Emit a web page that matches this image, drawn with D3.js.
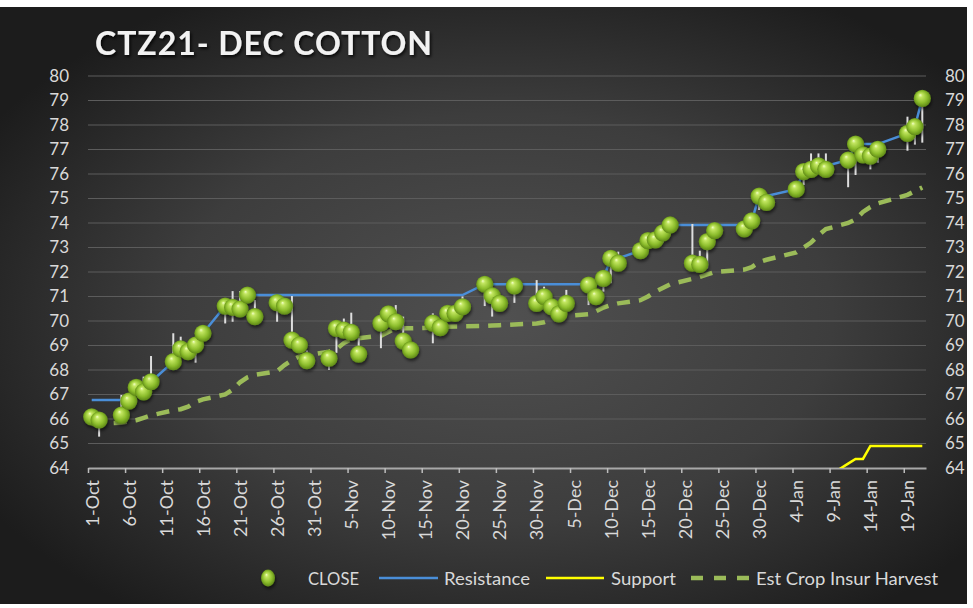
<!DOCTYPE html>
<html>
<head>
<meta charset="utf-8">
<script src="https://cdn.jsdelivr.net/npm/d3@7"></script>
<style>
  html, body { margin: 0; padding: 0; background: #fff; }
  svg { display: block; font-family: Lato, "Open Sans", sans-serif; }
</style>
</head>
<body>
<script>
// trading days shown on the chart
const dates = [
  "2020-10-01","2020-10-02",
  "2020-10-05","2020-10-06","2020-10-07","2020-10-08","2020-10-09",
  "2020-10-12","2020-10-13","2020-10-14","2020-10-15","2020-10-16",
  "2020-10-19","2020-10-20","2020-10-21","2020-10-22","2020-10-23",
  "2020-10-26","2020-10-27","2020-10-28","2020-10-29","2020-10-30",
  "2020-11-02","2020-11-03","2020-11-04","2020-11-05","2020-11-06",
  "2020-11-09","2020-11-10","2020-11-11","2020-11-12","2020-11-13",
  "2020-11-16","2020-11-17","2020-11-18","2020-11-19","2020-11-20",
  "2020-11-23","2020-11-24","2020-11-25","2020-11-27",
  "2020-11-30","2020-12-01","2020-12-02","2020-12-03","2020-12-04",
  "2020-12-07","2020-12-08","2020-12-09","2020-12-10","2020-12-11",
  "2020-12-14","2020-12-15","2020-12-16","2020-12-17","2020-12-18",
  "2020-12-21","2020-12-22","2020-12-23","2020-12-24",
  "2020-12-28","2020-12-29","2020-12-30","2020-12-31",
  "2021-01-04","2021-01-05","2021-01-06","2021-01-07","2021-01-08",
  "2021-01-11","2021-01-12","2021-01-13","2021-01-14","2021-01-15",
  "2021-01-19","2021-01-20","2021-01-21"
];

const close = [
  66.09, 65.96,
  66.16, 66.73, 67.29, 67.11, 67.52,
  68.34, 68.86, 68.75, 69.02, 69.50,
  70.61, 70.56, 70.49, 71.06, 70.18,
  70.75, 70.61, 69.22, 69.02, 68.38,
  68.48, 69.70, 69.63, 69.54, 68.65,
  69.91, 70.29, 69.97, 69.18, 68.82,
  69.91, 69.73, 70.31, 70.31, 70.58,
  71.50, 71.03, 70.72, 71.43,
  70.72, 70.99, 70.58, 70.29, 70.72,
  71.47, 70.99, 71.74, 72.56, 72.36,
  72.87, 73.28, 73.31, 73.60, 73.92,
  72.36, 72.31, 73.24, 73.69,
  73.76, 74.09, 75.10, 74.84,
  75.38, 76.10, 76.19, 76.33, 76.19,
  76.57, 77.22, 76.78, 76.73, 77.01,
  77.66, 77.93, 79.09
];

const high = [
  66.30, 66.20,
  66.98, 66.90, 67.40, 67.73, 68.57,
  69.50, 69.36, 68.90, 69.20, 69.60,
  70.86, 71.22, 71.22, 71.20, 70.86,
  70.90, 70.80, 71.02, 69.20, 68.80,
  68.60, 69.85, 70.10, 70.34, 69.30,
  70.38, 70.45, 70.65, 70.18, 69.00,
  70.31, 69.95, 70.50, 70.50, 71.00,
  71.74, 71.20, 70.90, 71.60,
  71.67, 71.40, 70.80, 70.50, 71.27,
  71.65, 71.20, 71.90, 72.75, 72.83,
  73.00, 73.45, 73.60, 73.80, 74.10,
  73.96, 72.87, 73.40, 73.85,
  73.90, 74.25, 75.25, 75.00,
  75.55, 76.30, 76.84, 76.84, 76.84,
  76.75, 77.40, 76.95, 76.90, 77.20,
  78.34, 78.10, 79.20
];

const low = [
  65.90, 65.28,
  66.00, 66.50, 67.10, 66.90, 67.30,
  68.10, 68.60, 68.50, 68.30, 69.30,
  69.90, 69.97, 70.30, 70.80, 70.00,
  69.97, 70.40, 69.00, 68.80, 68.20,
  68.00, 68.70, 69.40, 69.30, 68.50,
  68.89, 70.10, 69.80, 69.00, 68.60,
  69.09, 69.50, 70.10, 70.10, 70.40,
  70.61, 70.18, 70.50, 70.74,
  70.50, 70.80, 70.40, 70.10, 70.50,
  70.65, 70.80, 71.20, 71.54, 72.20,
  72.70, 73.10, 73.10, 73.20, 73.75,
  72.20, 72.15, 72.15, 73.50,
  73.60, 73.90, 74.53, 74.70,
  75.20, 75.55, 76.00, 76.10, 76.00,
  75.46, 75.96, 76.50, 76.19, 76.46,
  76.95, 77.20, 77.28
];

const resistance = [
  66.78, 66.78,
  66.78, 66.78, 67.29, 67.29, 67.52,
  68.34, 68.86, 68.86, 69.02, 69.50,
  70.61, 70.61, 70.61, 71.06, 71.06,
  71.06, 71.06, 71.06, 71.06, 71.06,
  71.06, 71.06, 71.06, 71.06, 71.06,
  71.06, 71.06, 71.06, 71.06, 71.06,
  71.06, 71.06, 71.06, 71.06, 71.06,
  71.50, 71.50, 71.50, 71.50,
  71.50, 71.50, 71.50, 71.50, 71.50,
  71.50, 71.50, 71.74, 72.56, 72.56,
  72.87, 73.28, 73.31, 73.60, 73.92,
  73.92, 73.92, 73.92, 73.92,
  73.92, 74.09, 75.10, 75.10,
  75.38, 76.10, 76.19, 76.33, 76.33,
  76.57, 77.22, 77.22, 77.22, 77.22,
  77.66, 77.93, 79.09
];

const support = [
  null, null,
  null, null, null, null, null,
  null, null, null, null, null,
  null, null, null, null, null,
  null, null, null, null, null,
  null, null, null, null, null,
  null, null, null, null, null,
  null, null, null, null, null,
  null, null, null, null,
  null, null, null, null, null,
  null, null, null, null, null,
  null, null, null, null, null,
  null, null, null, null,
  null, null, null, null,
  null, null, null, null, 63.60,
  64.18, 64.37, 64.37, 64.90, 64.90,
  64.90, 64.90, 64.90
];

const harvest = [
  65.80, 65.80,
  65.85, 65.90, 65.95, 66.05, 66.15,
  66.35, 66.40, 66.50, 66.70, 66.80,
  67.00, 67.20, 67.50, 67.70, 67.80,
  67.95, 68.20, 68.40, 68.55, 68.60,
  68.75, 68.85, 69.10, 69.25, 69.30,
  69.40, 69.55, 69.70, 69.70, 69.70,
  69.72, 69.75, 69.77, 69.78, 69.78,
  69.80, 69.82, 69.83, 69.86,
  69.90, 69.95, 70.05, 70.13, 70.20,
  70.28, 70.40, 70.55, 70.65, 70.72,
  70.85, 71.00, 71.20, 71.35, 71.50,
  71.72, 71.80, 71.90, 72.00,
  72.10, 72.20, 72.40, 72.50,
  72.80, 73.00, 73.20, 73.50, 73.75,
  74.00, 74.15, 74.45, 74.65, 74.80,
  75.15, 75.30, 75.45
];

const yTicks = [64, 65, 66, 67, 68, 69, 70, 71, 72, 73, 74, 75, 76, 77, 78, 79, 80];
const axisStart = "2020-10-01";
const axisEnd = "2021-01-22";
const legendNames = ["CLOSE", "Resistance", "Support", "Est Crop Insur Harvest"];
const title = "CTZ21- DEC COTTON";

const parse = d3.timeParse("%Y-%m-%d");
const noon = d => d3.timeHour.offset(d, 12);

const rows = dates.map((d, i) => ({
  date: noon(parse(d)),
  close: close[i], high: high[i], low: low[i],
  resistance: resistance[i], support: support[i], harvest: harvest[i]
}));

const width = 973, height = 608;
const plotLeft = 88, plotRight = 926, plotTop = 76, plotBottom = 468;

const x = d3.scaleTime()
  .domain([parse(axisStart), parse(axisEnd)])
  .range([plotLeft, plotRight]);
const y = d3.scaleLinear().domain([64, 80]).range([plotBottom, plotTop]);

const svg = d3.select("body").append("svg")
  .attr("width", width)
  .attr("height", height);

const defs = svg.append("defs");

const bg = defs.append("radialGradient").attr("id", "bg")
  .attr("cx", "52%").attr("cy", "52%").attr("r", "62%");
bg.append("stop").attr("offset", "0%").attr("stop-color", "#505050");
bg.append("stop").attr("offset", "55%").attr("stop-color", "#3d3d3d");
bg.append("stop").attr("offset", "100%").attr("stop-color", "#1c1c1c");

const ball = defs.append("radialGradient").attr("id", "ball")
  .attr("cx", "50%").attr("cy", "50%").attr("r", "55%")
  .attr("fx", "38%").attr("fy", "30%");
ball.append("stop").attr("offset", "0%").attr("stop-color", "#f2ffc8");
ball.append("stop").attr("offset", "20%").attr("stop-color", "#c2e660");
ball.append("stop").attr("offset", "62%").attr("stop-color", "#8cbd2c");
ball.append("stop").attr("offset", "100%").attr("stop-color", "#547d12");

const shadow = defs.append("filter").attr("id", "shadow")
  .attr("x", "-50%").attr("y", "-50%").attr("width", "200%").attr("height", "200%");
shadow.append("feDropShadow").attr("dx", 1).attr("dy", 2.5)
  .attr("stdDeviation", 1.8).attr("flood-color", "#000").attr("flood-opacity", 0.55);

const titleShadow = defs.append("filter").attr("id", "tshadow")
  .attr("x", "-10%").attr("y", "-30%").attr("width", "120%").attr("height", "160%");
titleShadow.append("feDropShadow").attr("dx", 1.5).attr("dy", 2)
  .attr("stdDeviation", 1.5).attr("flood-color", "#000").attr("flood-opacity", 0.8);

defs.append("clipPath").attr("id", "plot")
  .append("rect")
  .attr("x", plotLeft).attr("y", plotTop - 30)
  .attr("width", plotRight - plotLeft).attr("height", plotBottom - plotTop + 30);

// chart area background
svg.append("rect")
  .attr("x", 0).attr("y", 7)
  .attr("width", 967).attr("height", 597)
  .attr("fill", "url(#bg)");

// title
svg.append("text")
  .attr("x", 95).attr("y", 55)
  .attr("font-size", 32)
  .attr("font-weight", "bold")
  .attr("fill", "#f2f2f2")
  .attr("textLength", 337)
  .attr("lengthAdjust", "spacing")
  .attr("filter", "url(#tshadow)")
  .text(title);

// gridlines
svg.append("g")
  .selectAll("line")
  .data(yTicks.filter(v => v > 64))
  .join("line")
  .attr("x1", plotLeft).attr("x2", plotRight)
  .attr("y1", d => y(d)).attr("y2", d => y(d))
  .attr("stroke", "#5c5c5c")
  .attr("stroke-width", 1.2);

// y axes
const yLeft = svg.append("g")
  .attr("transform", `translate(${plotLeft},0)`)
  .call(d3.axisLeft(y).tickValues(yTicks).tickSize(0).tickPadding(19));
const yRight = svg.append("g")
  .attr("transform", `translate(${plotRight},0)`)
  .call(d3.axisRight(y).tickValues(yTicks).tickSize(0).tickPadding(19));
[yLeft, yRight].forEach(g => {
  g.select(".domain").remove();
  g.selectAll("text").attr("font-size", 17).attr("fill", "#d9d9d9")
    .attr("font-family", "Lato, sans-serif");
});

// x axis: ticks between days, labels centred on the day
const tickDays = d3.timeDay.range(parse(axisStart), parse(axisEnd), 5);
const xAxis = svg.append("g")
  .attr("transform", `translate(0,${plotBottom})`)
  .call(d3.axisBottom(x).tickValues(tickDays).tickSize(5).tickSizeOuter(0)
    .tickFormat(d3.timeFormat("%-d-%b")));
xAxis.select(".domain").attr("stroke", "#a8a8a8").attr("stroke-width", 2.2);
xAxis.selectAll(".tick line").attr("stroke", "#bdbdbd").attr("stroke-width", 1.5);
xAxis.selectAll("text")
  .attr("transform", "rotate(-90)")
  .attr("x", -12)
  .attr("y", x(noon(parse(axisStart))) - plotLeft)
  .attr("dy", "0.35em")
  .style("text-anchor", "end")
  .attr("font-size", 18)
  .attr("fill", "#d9d9d9")
  .attr("font-family", "Lato, sans-serif");

const plot = svg.append("g").attr("clip-path", "url(#plot)");

// Est Crop Insur Harvest
plot.append("path")
  .datum(rows)
  .attr("fill", "none")
  .attr("stroke", "#9bbb59")
  .attr("stroke-width", 4.5)
  .attr("stroke-dasharray", "13,9")
  .attr("d", d3.line().x(d => x(d.date)).y(d => y(d.harvest)));

// Support
plot.append("path")
  .datum(rows)
  .attr("fill", "none")
  .attr("stroke", "#ffff00")
  .attr("stroke-width", 2.5)
  .attr("d", d3.line().defined(d => d.support != null)
    .x(d => x(d.date)).y(d => y(d.support)));

// Resistance
plot.append("path")
  .datum(rows)
  .attr("fill", "none")
  .attr("stroke", "#4a8ed8")
  .attr("stroke-width", 2.5)
  .attr("d", d3.line().x(d => x(d.date)).y(d => y(d.resistance)));

// high-low bars
svg.append("g")
  .selectAll("line")
  .data(rows)
  .join("line")
  .attr("x1", d => x(d.date)).attr("x2", d => x(d.date))
  .attr("y1", d => y(d.high)).attr("y2", d => y(d.low))
  .attr("stroke", "#dedede")
  .attr("stroke-width", 2);

// CLOSE balls
svg.append("g")
  .attr("filter", "url(#shadow)")
  .selectAll("circle")
  .data(rows)
  .join("circle")
  .attr("cx", d => x(d.date))
  .attr("cy", d => y(d.close))
  .attr("r", 8.6)
  .attr("fill", "url(#ball)");

// legend
const legendY = 578;
const legend = svg.append("g").attr("font-size", 18).attr("fill", "#d9d9d9");
legend.append("ellipse")
  .attr("cx", 268).attr("cy", legendY)
  .attr("rx", 7).attr("ry", 8.5)
  .attr("fill", "url(#ball)")
  .attr("filter", "url(#shadow)");
legend.append("line")
  .attr("x1", 379).attr("x2", 438).attr("y1", legendY).attr("y2", legendY)
  .attr("stroke", "#4a8ed8").attr("stroke-width", 2.5);
legend.append("line")
  .attr("x1", 546).attr("x2", 604).attr("y1", legendY).attr("y2", legendY)
  .attr("stroke", "#ffff00").attr("stroke-width", 2.5);
legend.append("line")
  .attr("x1", 691).attr("x2", 749).attr("y1", legendY).attr("y2", legendY)
  .attr("stroke", "#9bbb59").attr("stroke-width", 4.5)
  .attr("stroke-dasharray", "12,11");

const legendText = [
  {x: 308, w: 51},
  {x: 444, w: 86},
  {x: 611, w: 65},
  {x: 756, w: 182}
];
legend.selectAll("text")
  .data(legendNames)
  .join("text")
  .attr("x", (d, i) => legendText[i].x)
  .attr("y", legendY + 6.5)
  .attr("textLength", (d, i) => legendText[i].w)
  .attr("lengthAdjust", "spacingAndGlyphs")
  .text(d => d);
</script>
</body>
</html>
